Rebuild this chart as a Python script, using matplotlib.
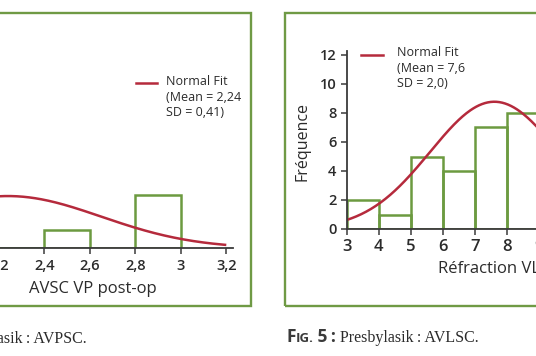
import numpy as np
import matplotlib
matplotlib.use("Agg")
import matplotlib.pyplot as plt
from matplotlib.patches import Rectangle
from matplotlib.lines import Line2D

# ---------------- data ----------------
left_bin_edges = [2.0, 2.2, 2.4, 2.6, 2.8, 3.0]
left_counts = [11, 0, 1, 0, 3]
left_mean, left_sd, left_n = 2.24, 0.41, 15
left_xticks = [2.2, 2.4, 2.6, 2.8, 3.0, 3.2]
left_xticklabels = ["2,2", "2,4", "2,6", "2,8", "3", "3,2"]
left_xlabel = "AVSC VP post-op"
left_legend = ["Normal Fit", "(Mean = 2,24", "SD = 0,41)"]
left_caption = "Presbylasik\u2009: AVPSC."

right_bin_edges = [3, 4, 5, 6, 7, 8, 9]
right_counts = [2, 1, 5, 4, 7, 8]
right_mean, right_sd, right_n = 7.6, 2.0, 44
right_xticks = [3, 4, 5, 6, 7, 8, 9]
right_yticks = [0, 2, 4, 6, 8, 10, 12]
right_ytick_labels = ["0", "2", "4", "6", "8", "10", "12"]
right_xlabel = "Réfraction VL post-op"
right_ylabel = "Fréquence"
right_legend = ["Normal Fit", "(Mean = 7,6", "SD = 2,0)"]
right_caption_parts = [("F", 12.5), ("IG.", 9.5), (" 5\u2009:", 12.5)]
right_caption = " Presbylasik\u2009: AVLSC."

# ---------------- style ----------------
W, H = 536, 356
DPI = 100
GREEN = "#6f9a45"
BAR_GREEN = "#6c9a40"
RED = "#b52a3c"
AXC = "#3a3a3a"
TXT = "#2b2b2b"
SANS = ["Open Sans", "DejaVu Sans"]
SERIF = ["Liberation Serif", "DejaVu Serif"]

plt.rcParams["font.family"] = SANS

fig = plt.figure(figsize=(W / DPI, H / DPI), dpi=DPI)


def fx(px):
    return px / W


def fy(py):
    return 1 - py / H


def px_axes(x0, y_axis, x_unit, y_unit, xlim, ylim):
    width = (xlim[1] - xlim[0]) * x_unit
    height = (ylim[1] - ylim[0]) * y_unit
    ax = fig.add_axes([fx(x0), 1 - y_axis / H, width / W, height / H])
    ax.set_xlim(*xlim)
    ax.set_ylim(*ylim)
    ax.patch.set_alpha(0)
    return ax


def style_axes(ax):
    for s in ["top", "right"]:
        ax.spines[s].set_visible(False)
    for s in ["left", "bottom"]:
        ax.spines[s].set_color(AXC)
        ax.spines[s].set_linewidth(1.3)
        ax.spines[s].set_zorder(5)
    ax.tick_params(direction="out", length=4.5, width=1.1, color=AXC,
                   labelsize=10.5, labelcolor=TXT, pad=3)
    for lab in ax.get_xticklabels() + ax.get_yticklabels():
        lab.set_fontweight("semibold")


def normal_curve(ax, edges, mean, sd, n, x0, x1):
    bw = edges[1] - edges[0]
    xs = np.linspace(x0, x1, 300)
    ys = n * bw / (sd * np.sqrt(2 * np.pi)) * np.exp(-0.5 * ((xs - mean) / sd) ** 2)
    ax.plot(xs, ys, color=RED, lw=1.8, zorder=4, solid_capstyle="butt")


# frames
fig.add_artist(Rectangle((fx(-20), fy(306)), fx(250.7 + 20), (306 - 13) / H,
                         fill=False, edgecolor=GREEN, lw=1.7, transform=fig.transFigure))
fig.add_artist(Rectangle((fx(285), fy(306)), fx(300), (306 - 13) / H,
                         fill=False, edgecolor=GREEN, lw=1.7, transform=fig.transFigure))

# ---------------- left panel ----------------
lxu = 227.5
lyu = 17.9
lxlim = (1.6, 3.231)
lx0 = 44.3 - (2.4 - lxlim[0]) * lxu
axL = px_axes(lx0, 248.3, lxu, lyu, lxlim, (0, 12))
widthsL = np.diff(left_bin_edges)
axL.bar(left_bin_edges[:-1], left_counts, width=widthsL, align="edge",
        fill=False, edgecolor=BAR_GREEN, lw=1.8, zorder=3)
normal_curve(axL, left_bin_edges, left_mean, left_sd, left_n, 1.6, 3.2)
axL.set_xticks(left_xticks)
axL.set_xticklabels(left_xticklabels)
axL.set_yticks([])
style_axes(axL)
axL.spines["left"].set_visible(False)

fig.add_artist(Line2D([fx(136), fx(157)], [fy(83.3), fy(83.3)], color=RED, lw=1.8,
                      transform=fig.transFigure))
for i, t in enumerate(left_legend):
    fig.text(fx(166), fy(81.7 + i * 15.5), t, fontsize=9, color=TXT, va="center", ha="left")

fig.text(fx(93), fy(293), left_xlabel, fontsize=12, color=TXT, ha="center", va="baseline")
fig.text(fx(87), fy(343), left_caption, fontsize=11.5, color=TXT, ha="right", va="baseline",
         family=SERIF)

# ---------------- right panel ----------------
rxu = 32.1
ryu = 14.5
rxlim = (3, 12)
rylim = (0, 12.3)
axR = px_axes(346.7, 229, rxu, ryu, rxlim, rylim)
widthsR = np.diff(right_bin_edges)
axR.bar(right_bin_edges[:-1], right_counts, width=widthsR, align="edge",
        fill=False, edgecolor=BAR_GREEN, lw=1.8, zorder=3)
normal_curve(axR, right_bin_edges, right_mean, right_sd, right_n, 3, 12)
axR.set_xticks(right_xticks)
axR.set_yticks(right_yticks)
axR.set_yticklabels(right_ytick_labels)
style_axes(axR)
axR.tick_params(axis="x", labelsize=12)

fig.add_artist(Line2D([fx(361), fx(383)], [fy(55), fy(55)], color=RED, lw=1.8,
                      transform=fig.transFigure))
for i, t in enumerate(right_legend):
    fig.text(fx(397), fy(52.7 + i * 15.3), t, fontsize=9, color=TXT, va="center", ha="left")

fig.text(fx(438), fy(273), right_xlabel, fontsize=12, color=TXT, ha="left", va="baseline")
fig.text(fx(303), fy(141.7), right_ylabel, fontsize=11.5, color=TXT, ha="center", va="center",
         rotation=90)

renderer = fig.canvas.get_renderer()
xpos = 286
for txt, size in right_caption_parts:
    t = fig.text(fx(xpos), fy(342), txt, fontsize=size, fontweight="bold", color="#3a3a3a",
                 ha="left", va="baseline")
    xpos += t.get_window_extent(renderer).width
fig.text(fx(xpos), fy(342), right_caption, fontsize=11.5, color=TXT, ha="left",
         va="baseline", family=SERIF)

fig.savefig("out.png", dpi=DPI)
